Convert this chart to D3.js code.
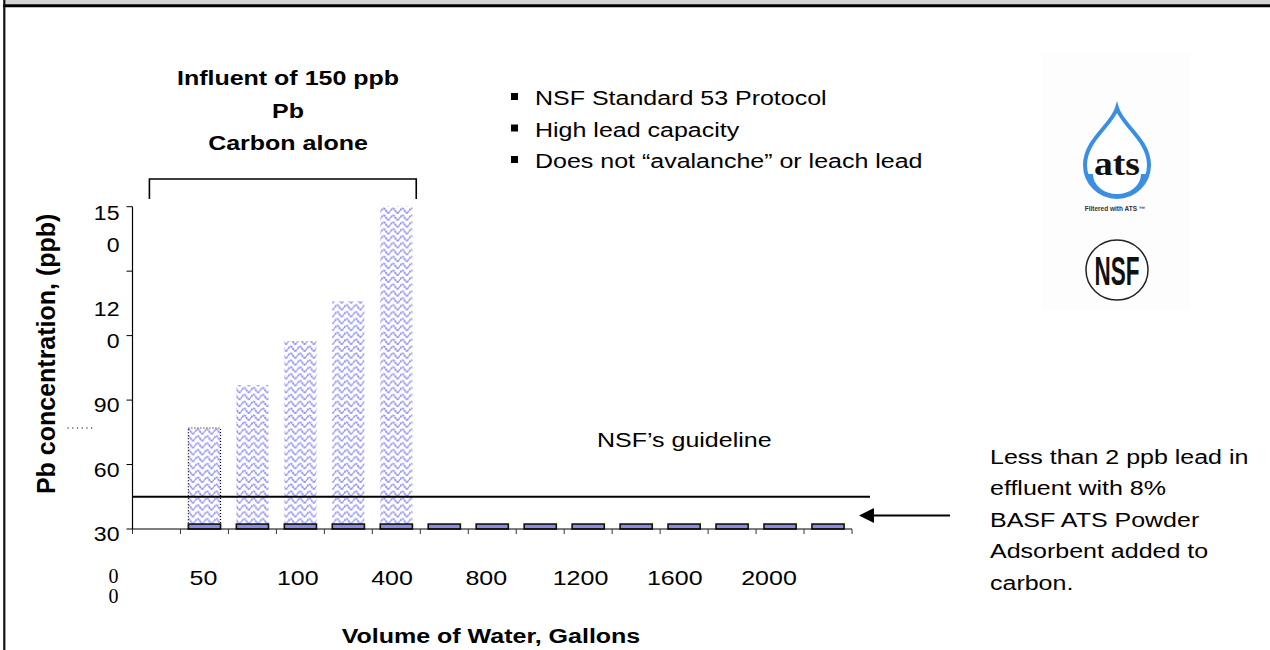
<!DOCTYPE html>
<html>
<head>
<meta charset="utf-8">
<script src="https://cdn.jsdelivr.net/npm/d3@7"></script>
<style>
  body { margin: 0; background: #ffffff; }
  text { font-family: "Liberation Sans", Arial, sans-serif; }
</style>
</head>
<body>
<div id="cnt"></div>
<script>
let ancho = 1270;
let largo = 650;

// datos
let categorias = ["0", "25", "50", "75", "100", "200", "400", "600", "800", "1000", "1200", "1400", "1600", "1800", "2000"];
let carbonSolo = [null, 47, 67, 87.5, 106, 150, null, null, null, null, null, null, null, null, null];
let conATS = [null, 2.3, 2.3, 2.3, 2.3, 2.3, 2.3, 2.3, 2.3, 2.3, 2.3, 2.3, 2.3, 2.3, 2.3];
let yTicks = [0, 30, 60, 90, 120, 150];
let yEtiquetas = ["30", "60", "90", "12\n0", "", "15\n0"];
let xEtiquetas = ["50", "100", "400", "800", "1200", "1600", "2000"];
let guia = 15;
let bullets = ["NSF Standard 53 Protocol", "High lead capacity", "Does not \u201cavalanche\u201d or leach lead"];
let titulo = ["Influent of 150 ppb", "Pb", "Carbon alone"];
let nota = ["Less than 2 ppb lead in", "effluent with 8%", "BASF ATS Powder", "Adsorbent added to", "carbon."];

let izq = 132.5, der = 852, arriba = 206.7, abajo = 529;
let estira = 1.25; // la diapositiva esta estirada a lo ancho

let svg = d3.select('#cnt')
    .append("svg")
    .attr('width', ancho)
    .attr('height', largo)

// texto estirado horizontalmente
function texto(x, y, str, tam, peso, ancla, esc) {
    return svg.append("text")
        .attr("transform", "translate(" + x + "," + y + ") scale(" + (esc || estira) + ",1)")
        .attr("text-anchor", ancla || "start")
        .style("font-size", tam + "px")
        .style("font-weight", peso || "normal")
        .text(str)
}

// patron ondulado
let pat = svg.append("defs").append("pattern")
    .attr("id", "onda")
    .attr("patternUnits", "userSpaceOnUse")
    .attr("width", 9.3)
    .attr("height", 6.9)
pat.append("rect").attr("width", 9.3).attr("height", 6.9).attr("fill", "#ffffff")
pat.append("path")
    .attr("d", "M0,3.6 Q2.33,-1 4.65,3.6 T9.3,3.6")
    .attr("fill", "none")
    .attr("stroke", "#9090f2")
    .attr("stroke-width", 1.8)
    .attr("stroke-dasharray", "2.4,0.6")

// marco
svg.append("rect").attr("x", 5).attr("y", 0).attr("width", ancho - 5).attr("height", 4.5).attr("fill", "#d4d4d4")
svg.append("line").attr("x1", 3).attr("x2", ancho).attr("y1", 5.8).attr("y2", 5.8)
    .attr("stroke", "#000").attr("stroke-width", 3)
svg.append("line").attr("x1", 4.3).attr("x2", 4.3).attr("y1", 0).attr("y2", largo)
    .attr("stroke", "#111").attr("stroke-width", 2.2)

// fondo logos
svg.append("rect").attr("x", 1042).attr("y", 52).attr("width", 148).attr("height", 258).attr("fill", "#fdfdfd")

// escalas
let x = d3.scaleBand()
    .domain(categorias)
    .range([izq, der])
    .paddingInner(0.33)
    .paddingOuter(0.165)

let y = d3.scaleLinear()
    .domain([0, 150])
    .range([abajo, arriba])

let paso = x.step();

// barras carbon
svg.append("g").selectAll("rect")
    .data(categorias.filter((c, i) => carbonSolo[i] != null))
    .enter()
    .append("rect")
    .attr("x", d => x(d))
    .attr("y", d => y(carbonSolo[categorias.indexOf(d)]))
    .attr("width", x.bandwidth())
    .attr("height", d => y(0) - y(carbonSolo[categorias.indexOf(d)]))
    .attr("fill", "url(#onda)")
    .attr("stroke", (d, i) => i == 0 ? "#000" : "none")
    .attr("stroke-width", 1.2)
    .attr("stroke-dasharray", "1,2")

// barras con ATS
svg.append("g").selectAll("rect")
    .data(categorias.filter((c, i) => conATS[i] != null))
    .enter()
    .append("rect")
    .attr("x", d => x(d))
    .attr("y", d => y(conATS[categorias.indexOf(d)]))
    .attr("width", x.bandwidth())
    .attr("height", d => y(0) - y(conATS[categorias.indexOf(d)]))
    .attr("fill", "#8c8ce6")
    .attr("stroke", "#111")
    .attr("stroke-width", 1.6)

// eje x
svg.append("line").attr("x1", izq).attr("x2", der).attr("y1", abajo).attr("y2", abajo)
    .attr("stroke", "#000").attr("stroke-width", 1.2)
let marcasX = categorias.map(c => x(c) - paso * x.paddingOuter()).concat([der]);
svg.append("g").selectAll("line")
    .data(marcasX)
    .enter()
    .append("line")
    .attr("x1", d => d).attr("x2", d => d)
    .attr("y1", abajo).attr("y2", abajo + 5)
    .attr("stroke", "#333").attr("stroke-width", 1)

// eje y
svg.append("line").attr("x1", izq).attr("x2", izq).attr("y1", arriba).attr("y2", abajo)
    .attr("stroke", "#000").attr("stroke-width", 1.2)
svg.append("g").selectAll("line")
    .data(yTicks)
    .enter()
    .append("line")
    .attr("x1", izq - 6).attr("x2", izq)
    .attr("y1", d => y(d)).attr("y2", d => y(d))
    .attr("stroke", "#000").attr("stroke-width", 1)

// etiquetas y (partidas como en la diapositiva)
yTicks.forEach((v, i) => {
    let lineas = yEtiquetas[i] == "" ? [] : yEtiquetas[i].split("\n");
    lineas.forEach((l, k) => {
        let base;
        if (v == 150) base = y(v) + 13 + k * 32;
        else base = y(v) + 12 - (lineas.length - 1 - k) * 32;
        texto(izq - 13, base, l, 21, "normal", "end", 1.1)
    })
})

// linea punteada suelta
svg.append("line")
    .attr("x1", izq - 65).attr("x2", izq - 37)
    .attr("y1", y(carbonSolo[1])).attr("y2", y(carbonSolo[1]))
    .attr("stroke", "#000").attr("stroke-width", 1.2).attr("stroke-dasharray", "1.2,3.5")

// titulo eje y
svg.append("text")
    .attr("transform", "translate(55," + ((arriba + abajo) / 2 - 14) + ") rotate(-90)")
    .attr("text-anchor", "middle")
    .style("font-size", "25px")
    .style("font-weight", "bold")
    .text("Pb concentration, (ppb)")

// etiquetas x
let xl = d3.scalePoint()
    .domain(xEtiquetas)
    .range([izq + 1.48 * paso, izq + 13.27 * paso])
xEtiquetas.forEach(d => texto(xl(d), 585, d, 20, "normal", "middle"))

svg.append("text")
    .attr("text-anchor", "middle")
    .style("font-family", "'Liberation Serif', serif")
    .style("font-size", "20px")
    .selectAll("tspan")
    .data(["0", "0"])
    .enter()
    .append("tspan")
    .attr("x", izq - 19)
    .attr("y", (d, i) => 583 + i * 20)
    .text(d => d)

texto(491, 643, "Volume of Water, Gallons", 20, "bold", "middle")

// guia NSF
svg.append("line")
    .attr("x1", izq).attr("x2", 870)
    .attr("y1", y(guia)).attr("y2", y(guia))
    .attr("stroke", "#000").attr("stroke-width", 2)
texto(597, 447, "NSF\u2019s guideline", 20)

// titulo carbon
titulo.forEach((t, i) => texto(288, 85 + i * 32.5, t, 20, "bold", "middle"))

// corchete
svg.append("path")
    .attr("d", "M" + (x(categorias[0]) + 9) + ",199 V179 H" + (x(categorias[5]) + 36) + " V199")
    .attr("fill", "none")
    .attr("stroke", "#000")
    .attr("stroke-width", 1.6)

// bullets
bullets.forEach((b, i) => {
    svg.append("rect")
        .attr("x", 511).attr("y", 93 + i * 31.5)
        .attr("width", 7).attr("height", 7)
        .attr("fill", "#000")
    texto(535, 105 + i * 31.5, b, 20)
})

// nota derecha
nota.forEach((t, i) => texto(990, 463.5 + i * 31.6, t, 20))

// flecha
svg.append("line")
    .attr("x1", 870).attr("x2", 950)
    .attr("y1", 515.5).attr("y2", 515.5)
    .attr("stroke", "#000").attr("stroke-width", 1.8)
svg.append("path")
    .attr("d", "M859,515.5 L874,508 L874,523 Z")
    .attr("fill", "#000")

// logo ATS
let ats = svg.append("g")
ats.append("path")
    .attr("d", "M1117,108 C1112,125 1085,140 1085,165 A32,32 0 0 0 1149,165 C1149,140 1122,125 1117,108 Z")
    .attr("fill", "#ffffff")
    .attr("stroke", "#3b8fe3")
    .attr("stroke-width", 4)
ats.append("path")
    .attr("d", "M1087,174 A31,31 0 0 0 1147,174 L1141,174 A24,20 0 0 1 1093,174 Z")
    .attr("fill", "#3b8fe3")
ats.append("text")
    .attr("x", 1117)
    .attr("y", 175)
    .attr("text-anchor", "middle")
    .style("font-family", "'Liberation Serif', serif")
    .style("font-weight", "bold")
    .style("font-size", "34px")
    .attr("textLength", 46)
    .attr("lengthAdjust", "spacingAndGlyphs")
    .attr("fill", "#111")
    .text("ats")
ats.append("text")
    .attr("x", 1115)
    .attr("y", 211)
    .attr("text-anchor", "middle")
    .style("font-weight", "bold")
    .style("font-size", "6.5px")
    .attr("fill", "#333")
    .text("Filtered with ATS \u2122")

// logo NSF
svg.append("ellipse")
    .attr("cx", 1117).attr("cy", 270)
    .attr("rx", 31).attr("ry", 30)
    .attr("fill", "#ffffff")
    .attr("stroke", "#222")
    .attr("stroke-width", 1.5)
svg.append("text")
    .attr("x", 1117)
    .attr("y", 285)
    .attr("text-anchor", "middle")
    .style("font-family", "'Liberation Sans Narrow', 'Liberation Sans', sans-serif")
    .style("font-weight", "bold")
    .style("font-size", "40px")
    .attr("textLength", 45)
    .attr("lengthAdjust", "spacingAndGlyphs")
    .attr("fill", "#111")
    .text("NSF")
</script>
</body>
</html>
